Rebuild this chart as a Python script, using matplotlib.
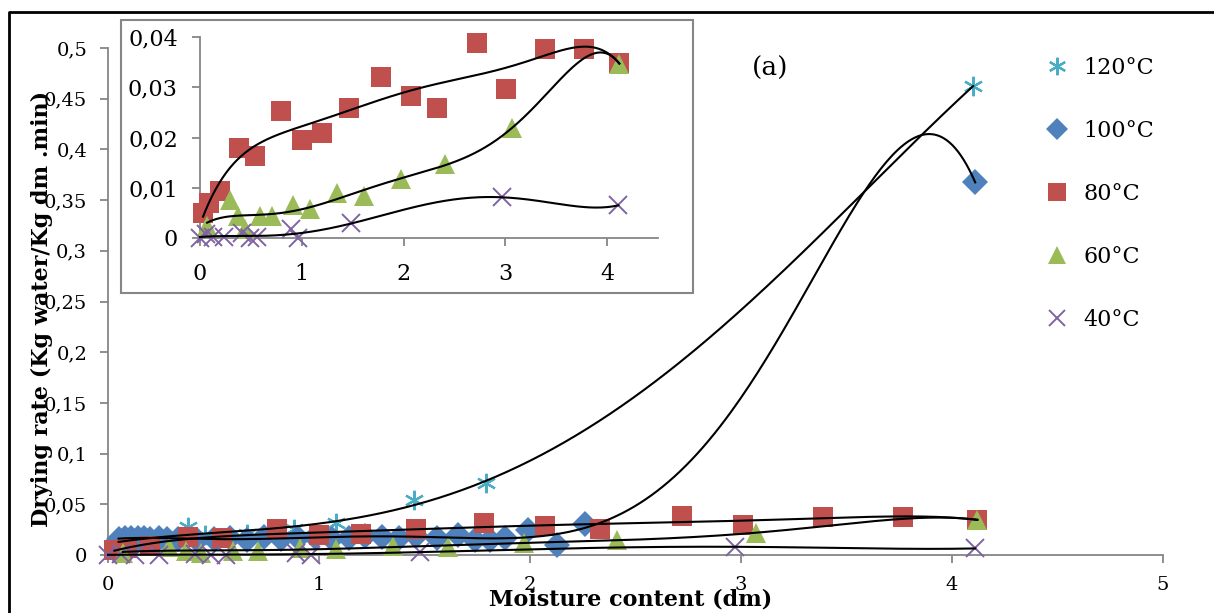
import numpy as np
import matplotlib
matplotlib.use('Agg')
from matplotlib import pyplot as plt
from matplotlib.patches import Rectangle
from matplotlib.lines import Line2D
from matplotlib.ticker import FuncFormatter

# drying rate (Kg water/Kg dm.min) against moisture content (dm)
x_120 = [0.05, 0.15, 0.25, 0.38, 0.46, 0.66, 0.88, 1.08, 1.45, 1.79, 4.10]
y_120 = [0.012, 0.015, 0.016, 0.028, 0.020, 0.021, 0.026, 0.032, 0.054, 0.071, 0.4625]

x_100 = [0.05, 0.08, 0.11, 0.14, 0.17, 0.20, 0.24, 0.28, 0.33, 0.42, 0.50, 0.58,
         0.66, 0.74, 0.82, 0.90, 0.98, 1.06, 1.14, 1.22, 1.30, 1.38, 1.46, 1.56,
         1.66, 1.74, 1.81, 1.88, 1.99, 2.13, 2.26, 4.11]
y_100 = [0.016, 0.017, 0.017, 0.017, 0.017, 0.016, 0.017, 0.016, 0.016, 0.015, 0.016, 0.017,
         0.015, 0.018, 0.016, 0.017, 0.018, 0.016, 0.017, 0.019, 0.018, 0.017, 0.019, 0.017,
         0.020, 0.015, 0.015, 0.017, 0.025, 0.010, 0.031, 0.3675]

x_80 = [0.03, 0.09, 0.20, 0.38, 0.54, 0.80, 1.00, 1.20, 1.46, 1.78, 2.07, 2.33,
        2.72, 3.01, 3.39, 3.77, 4.12]
y_80 = [0.0050, 0.0070, 0.0093, 0.0180, 0.0164, 0.0252, 0.0196, 0.0208, 0.0259, 0.0320,
        0.0282, 0.0258, 0.0388, 0.0297, 0.0377, 0.0377, 0.0348]

x_60 = [0.07, 0.29, 0.37, 0.44, 0.59, 0.71, 0.91, 1.08, 1.35, 1.61, 1.97, 2.41, 3.07, 4.12]
y_60 = [0.0023, 0.0076, 0.0044, 0.0017, 0.0043, 0.0043, 0.0066, 0.0058, 0.0090, 0.0083,
        0.0118, 0.0148, 0.0219, 0.0347]

x_40 = [0.00, 0.06, 0.13, 0.24, 0.41, 0.49, 0.56, 0.89, 0.96, 1.48, 2.97, 4.11]
y_40 = [0.0000, 0.0007, 0.0002, 0.0001, 0.0010, 0.0000, 0.0002, 0.0018, 0.0000, 0.0029,
        0.0081, 0.0065]

labels = ['120°C', '100°C', '80°C', '60°C', '40°C']
# polynomial trendline order for each temperature
fit_order = {'120°C': 4, '100°C': 6, '80°C': 6, '60°C': 6, '40°C': 5}

# six-spoke asterisk, like the spreadsheet marker
asterisk = (6, 2, 0)

series = [
    ('120°C', x_120, y_120, dict(marker=asterisk, color='#4BACC6', ms=14, mew=1.6)),
    ('100°C', x_100, y_100, dict(marker='D', color='#4F81BD', ms=13, mew=0)),
    ('80°C', x_80, y_80, dict(marker='s', color='#C0504D', ms=15, mew=0)),
    ('60°C', x_60, y_60, dict(marker='^', color='#9BBB59', ms=15, mew=0)),
    ('40°C', x_40, y_40, dict(marker='x', color='#8064A2', ms=13, mew=1.4)),
]

plt.rcParams['font.family'] = ['DejaVu Serif']
GRAY = '#868686'

fig = plt.figure(figsize=(12.14, 6.13), dpi=100)

comma = FuncFormatter(lambda v, p: ('%g' % round(v, 4)).replace('.', ','))


def style_axes(ax, size, pad_y, pad_x):
    for s in ['top', 'right']:
        ax.spines[s].set_visible(False)
    for s in ['left', 'bottom']:
        ax.spines[s].set_color(GRAY)
        ax.spines[s].set_linewidth(1.3)
    ax.tick_params(direction='out', length=6, width=1.3, color=GRAY, labelsize=size)
    ax.tick_params(axis='y', pad=pad_y)
    ax.tick_params(axis='x', pad=pad_x)
    ax.yaxis.set_major_formatter(comma)


def draw_series(ax, which):
    for name, xs, ys, st in series:
        if name not in which:
            continue
        ax.plot(xs, ys, linestyle='none', marker=st['marker'], color=st['color'],
                markersize=st['ms'], markeredgewidth=st['mew'],
                markeredgecolor=st['color'], clip_on=False, zorder=3)
    # trendlines are drawn on top of the markers
    for name, xs, ys, st in series:
        if name not in which:
            continue
        coef = np.polyfit(xs, ys, fit_order[name])
        xx = np.linspace(min(xs), max(xs), 300)
        ax.plot(xx, np.polyval(coef, xx), color='black', lw=1.5, zorder=4, clip_on=False)


# main chart
ax = fig.add_axes([0.089, 0.0946, 0.869, 0.827])
style_axes(ax, 14, 9, 9)
draw_series(ax, labels)
ax.set_xlim(0, 5)
ax.set_ylim(0, 0.5)
ax.set_xticks(range(6))
ax.set_yticks(np.arange(0, 0.501, 0.05))
ax.set_xlabel('Moisture content (dm)', fontsize=16, fontweight='bold')
ax.set_ylabel('Drying rate (Kg water/Kg dm .min)', fontsize=16, fontweight='bold')
ax.xaxis.set_label_coords(0.495, -0.066)
ax.yaxis.set_label_coords(-0.052, 0.485)
ax.text(3.14, 0.48, '(a)', fontsize=19, ha='center', va='center')

# legend at the right
handles = [Line2D([], [], linestyle='none', marker=st['marker'], color=st['color'],
                  markersize=st['ms'] * 0.9, markeredgewidth=st['mew'])
           for name, xs, ys, st in series]
fig.legend(handles, labels, loc='upper left', bbox_to_anchor=(0.843, 0.94), frameon=False,
           fontsize=16, labelspacing=1.85, handletextpad=0.6, handlelength=1.2)

# inset frame and zoomed chart
frame = Rectangle((121 / 1214, 1 - 293 / 613), (693 - 121) / 1214, (293 - 20) / 613,
                  transform=fig.transFigure, facecolor='white', edgecolor=GRAY, lw=1.5, zorder=1.5)
fig.add_artist(frame)

ins = fig.add_axes([200 / 1214, 1 - 238 / 613, 458 / 1214, 201 / 613], zorder=2)
ins.patch.set_alpha(0)
style_axes(ins, 16, 10, 12)
draw_series(ins, ['80°C', '60°C', '40°C'])
ins.set_xlim(0, 4.5)
ins.set_ylim(0, 0.04)
ins.set_xticks(range(5))
ins.set_yticks([0, 0.01, 0.02, 0.03, 0.04])

# outer border (top and left edges)
fig.add_artist(Line2D([9 / 1214, 9 / 1214, 1], [0, 1 - 12 / 613, 1 - 12 / 613],
                      transform=fig.transFigure, color='black', lw=2))

fig.savefig('out.png', dpi=100)
